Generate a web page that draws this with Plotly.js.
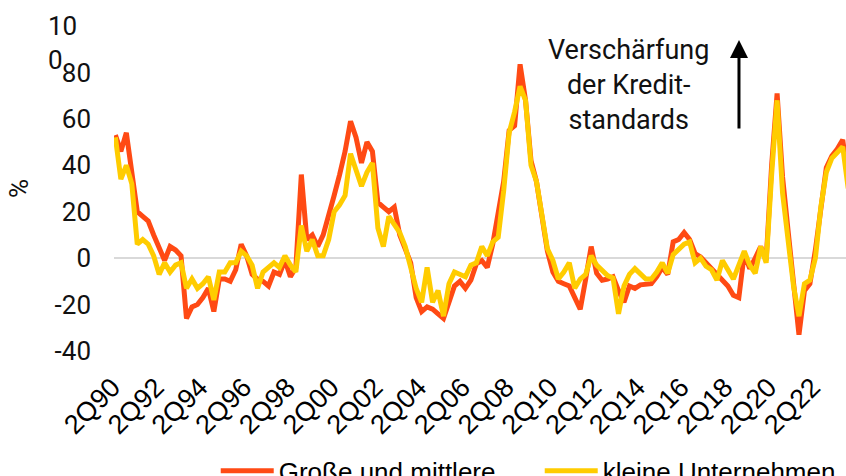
<!DOCTYPE html>
<html>
<head>
<meta charset="utf-8">
<script src="https://cdn.plot.ly/plotly-3.0.1.min.js"></script>
<style>html,body{margin:0;padding:0;background:#fff;}#chart{width:846px;height:476px;}</style>
</head>
<body>
<div id="chart"></div>
<script>
// Quarterly categories 2Q90 .. 4Q23
const quarters = [];
for (let y = 1990; y <= 2023; y++) {
  for (let q = 1; q <= 4; q++) {
    if (y === 1990 && q === 1) continue;
    quarters.push(q + "Q" + String(y % 100).padStart(2, "0"));
  }
}

const tickLabels = ["2Q90","2Q92","2Q94","2Q96","2Q98","2Q00","2Q02","2Q04","2Q06","2Q08","2Q10","2Q12","2Q14","2Q16","2Q18","2Q20","2Q22"];

const seriesNames = ["Große und mittlere", "kleine Unternehmen"];

const grosseUndMittlere = [
  53, 46, 54, 37, 20, 18, 16, 10, 4, -1,
  5, 3.5, 1, -26, -21, -20, -17, -13, -23, -9,
  -9, -10, -5, 6, 1, -7, -9, -10, -12, -6,
  -7, -1, -8, -4, 36, 8, 10, 5, 10, 18,
  27, 36, 46, 59, 52, 41, 50, 46, 24, 22,
  20, 22, 10, 4, -2, -17, -23, -21, -22, -24,
  -26, -19, -12, -10, -13, -9.5, -2.5, -1, -4, 6,
  19, 33, 55, 57, 83.5, 68, 42, 33, 18, 3,
  -6, -10, -11, -12, -17, -22, -9, 5, -6.5, -9.5,
  -9, -8, -14, -19, -12, -13, -11.5, -11, -11, -8,
  -4, -7, 7, 8, 11, 8, 2, 0.5, -2, -4.5,
  -7, -10, -12, -16, -17, 2, -4.5, 0, 5, -1,
  40, 71, 35, 12, -10, -33, -14, -11, 3.5, 22,
  39, 44, 47, 51, 34
];

const kleineUnternehmen = [
  52, 34, 40, 32, 6, 8, 6, 1, -7, -2,
  -6, -3, -2, -13, -9, -13, -11, -8, -18, -6,
  -6, -2, -2, 3, 1, -3, -13, -6, -4, -2,
  -4, 1, -3, -6, 14, 3, 8, 1, 1, 8,
  20, 23, 27, 45, 38, 31, 37, 41, 13, 5,
  18, 14, 11, 5, -4, -13, -19, -4, -19, -14,
  -25, -11, -6, -7, -8, -3, -2, 5, 1, 7,
  9, 29, 54, 63, 74, 68, 40, 33, 19, 4,
  -1, -9, -6, -2, -13, -9, -7, 1, -3, -5.5,
  -7.5, -8.5, -24, -12, -7, -4.5, -7, -9, -9, -6,
  -2, -6.5, 1.5, 4, 6, 7, -2, 0, -3.5, -5,
  -9.5, -1, -5, -9, -3, 3, -3, -6.5, 5, -2,
  36, 68, 28, 7, -12, -25, -11, -9.5, 0, 22,
  37, 43, 45.5, 48, 30
];

const yTickVals = [-40, -20, 0, 20, 40, 60, 80];
const yTickText = ["-40", "-20", "0", "20", "40", "60", "80"];

const humanFont = "Roboto, 'Open Sans', sans-serif";
const arialFont = "'Liberation Sans', Arial, sans-serif";

const traces = [
  {
    type: "scatter", mode: "lines", name: seriesNames[0],
    x: quarters, y: grosseUndMittlere,
    line: {color: "#FF4A14", width: 5},
    hoverinfo: "skip"
  },
  {
    type: "scatter", mode: "lines", name: seriesNames[1],
    x: quarters, y: kleineUnternehmen,
    line: {color: "#FFCC00", width: 5},
    hoverinfo: "skip"
  }
];

const layout = {
  width: 846, height: 476,
  margin: {l: 114, r: 0, t: 26, b: 125, pad: 0},
  paper_bgcolor: "#ffffff", plot_bgcolor: "#ffffff",
  showlegend: true,
  legend: {
    orientation: "h", xref: "container", yref: "container",
    x: 0.255, xanchor: "left", y: 0.06, yanchor: "top",
    font: {family: arialFont, size: 26, color: "#000"},
    itemwidth: 53,
    entrywidth: 256, entrywidthmode: "pixels",
    bgcolor: "rgba(0,0,0,0)"
  },
  xaxis: {
    type: "category",
    range: [-0.256, 133.6],
    tickmode: "array", tickvals: tickLabels, ticktext: tickLabels,
    tickangle: -45,
    tickfont: {family: arialFont, size: 27, color: "#000"},
    showgrid: false, zeroline: false, showline: false, ticks: "",
    ticklabelstandoff: 14,
    ticklabelshift: -3
  },
  yaxis: {
    range: [-40, 100],
    tickmode: "array", tickvals: yTickVals, ticktext: yTickText,
    tickfont: {family: humanFont, size: 26, color: "#111"},
    showgrid: false, showline: false, ticks: "",
    zeroline: true, zerolinecolor: "#d9d9d9", zerolinewidth: 2,
    ticklabelstandoff: 22,
    title: {text: "%", font: {family: humanFont, size: 26, color: "#111"}, standoff: 18},
    automargin: false
  },
  annotations: [
    {
      xref: "paper", yref: "paper", x: -0.0929, y: 0.9477,
      xanchor: "left", yanchor: "middle", align: "left",
      text: "10<br>0", showarrow: false,
      font: {family: humanFont, size: 26, color: "#111"}
    },
    {
      xref: "paper", yref: "paper", x: 0.7022, y: 0.817,
      xanchor: "center", yanchor: "middle", align: "center",
      text: "Verschärfung<br>der Kredit-<br>standards", showarrow: false,
      font: {family: humanFont, size: 27, color: "#111"}
    },
    {
      xref: "paper", yref: "paper", x: 0.8538, y: 0.9569,
      text: "", showarrow: true, ax: 0, ay: 90,
      arrowhead: 2, arrowsize: 1.2, arrowwidth: 3, arrowcolor: "#000"
    }
  ]
};

Plotly.newPlot("chart", traces, layout, {staticPlot: true, displayModeBar: false});
</script>
</body>
</html>
